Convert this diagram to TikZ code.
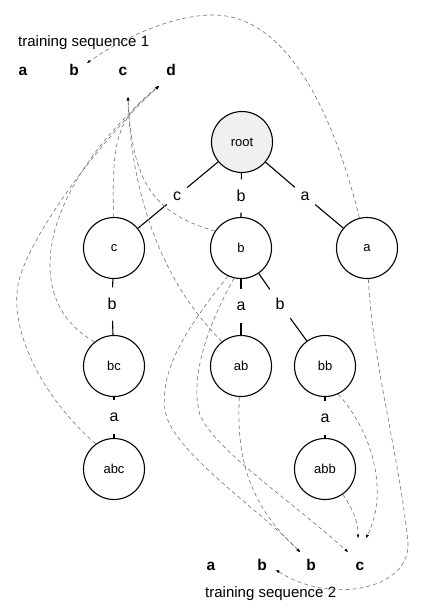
\documentclass[tikz,border=0pt]{standalone}
\usepackage{fontspec}
\setmainfont{Liberation Sans}
\usetikzlibrary{arrows.meta}

\begin{document}
\begin{tikzpicture}[x=1pt, y=-1pt,
    ctx/.style={draw, circle, line width=1.1pt, minimum size=61pt,
                inner sep=0pt, font=\fontsize{13}{15}\selectfont},
    elabel/.style={minimum width=20pt, minimum height=33pt, inner sep=0pt,
                   font=\fontsize{16}{18}\selectfont},
    seqsym/.style={anchor=base, font=\fontsize{15.5}{18}\selectfont\bfseries},
    seqtitle/.style={anchor=west, inner sep=0pt, font=\fontsize{15}{18}\selectfont},
    branch/.style={line width=1.1pt},
    ptr/.style={draw=black!55, line width=0.6pt, dash pattern=on 4pt off 3pt,
                -{Triangle[length=3.5pt, width=2.6pt, black]}}
  ]
  \useasboundingbox (0,0) rectangle (421,615);

  % training sequences
  \node[seqtitle] (t1) at (18,43) {training sequence 1};
  \node[seqsym] (s1a) at (23,76) {a};
  \node[seqsym] (s1b) at (74,76) {b};
  \node[seqsym] (s1c) at (123,76) {c};
  \node[seqsym] (s1d) at (171,76) {d};

  \node[seqtitle] (t2) at (205,594) {training sequence 2};
  \node[seqsym] (s2a) at (211,570) {a};
  \node[seqsym] (s2b) at (262,570) {b};
  \node[seqsym] (s2bb) at (311,570) {b};
  \node[seqsym] (s2c) at (360,570) {c};

  % arrow ends at the sequences
  \coordinate (t1b) at (87,63);
  \coordinate (t1c) at (128,97);
  \coordinate (t1d) at (159,86);
  \coordinate (t2b) at (276,570);
  \coordinate (t2bb) at (300,552);
  \coordinate (t2c1) at (348,552);
  \coordinate (t2c2) at (366,538);
  \coordinate (t2c3) at (358,538);

  % context tree
  \node[ctx, fill=black!6] (root) at (242,142) {root};
  \node[ctx] (c) at (114,248) {c};
  \node[ctx] (b) at (241,248) {b};
  \node[ctx] (a) at (367,248) {a};
  \node[ctx] (bc) at (114,366) {bc};
  \node[ctx] (ab) at (241,366) {ab};
  \node[ctx] (bb) at (325,366) {bb};
  \node[ctx] (abc) at (114,469) {abc};
  \node[ctx] (abb) at (325,469) {abb};

  % edge labels
  \node[elabel] (e_c) at (177,196) {c};
  \node[elabel] (e_b) at (241,196) {b};
  \node[elabel] (e_a) at (305,196) {a};
  \node[elabel] (e_bc) at (112,304) {b};
  \node[elabel] (e_ab) at (241,306) {a};
  \node[elabel] (e_bb) at (280,304) {b};
  \node[elabel] (e_abc) at (114,417) {a};
  \node[elabel] (e_abb) at (325,418) {a};

  \draw[branch] (root) -- (e_c) -- (c);
  \draw[branch] (root) -- (e_b) -- (b);
  \draw[branch] (root) -- (e_a) -- (a);
  \draw[branch] (c) -- (e_bc) -- (bc);
  \draw[branch] (b) -- (e_ab) -- (ab);
  \draw[branch] (b) -- (e_bb) -- (bb);
  \draw[branch] (bc) -- (e_abc) -- (abc);
  \draw[branch] (bb) -- (e_abb) -- (abb);

  % pointers into sequence 1
  \draw[ptr] (a) .. controls (335,120) and (290,15) .. (213,15)
    .. controls (170,15) and (120,40) .. (t1b);
  \draw[ptr] (b.147) .. controls (160,215) and (132,190) .. (t1c);
  \draw[ptr] (ab.128) .. controls (150,270) and (130,170) .. (t1c);
  \draw[ptr] (c) .. controls (112,140) and (116,120) .. (t1d);
  \draw[ptr] (bc.129) .. controls (20,300) and (38,190) .. (t1d);
  \draw[ptr] (abc.126) .. controls (40,395) and (10,330) .. (18,285)
    .. controls (26,240) and (100,140) .. (t1d);

  % pointers into sequence 2
  \draw[ptr] (a) .. controls (372,360) and (400,460) .. (408,543)
    .. controls (410,590) and (330,605) .. (t2b);
  \draw[ptr] (b.245) .. controls (185,330) and (160,370) .. (165,410)
    .. controls (170,450) and (260,510) .. (t2bb);
  \draw[ptr] (ab) .. controls (236,460) and (250,505) .. (t2bb);
  \draw[ptr] (b.257) .. controls (205,330) and (190,380) .. (200,415)
    .. controls (215,450) and (290,500) .. (t2c1);
  \draw[ptr] (bb.-65) .. controls (375,435) and (388,495) .. (t2c2);
  \draw[ptr] (abb.-55) .. controls (352,508) and (358,520) .. (t2c3);
\end{tikzpicture}
\end{document}
